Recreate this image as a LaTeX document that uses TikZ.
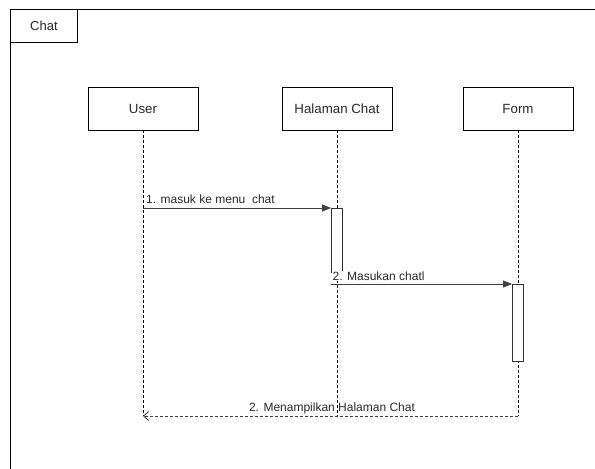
\documentclass[tikz,border=0pt]{standalone}
\usepackage{fontspec}
\setmainfont{Liberation Sans}
\usetikzlibrary{arrows.meta}
\definecolor{txt}{HTML}{2A2A2A}
\begin{document}
\begin{tikzpicture}[x=1pt,y=-1pt,
  every node/.style={font=\fontsize{13.3}{15}\selectfont, text=txt},
  head/.style={draw=black, line width=0.8pt, fill=white, minimum width=110pt, minimum height=43pt, inner sep=0pt},
  life/.style={draw=black, line width=0.6pt, dash pattern=on 3pt off 2pt},
  actbar/.style={draw=black!80, line width=0.8pt, fill=white},
  msg/.style={draw=black!75, line width=0.8pt, -{Triangle[length=9pt,width=7pt]}},
  ret/.style={draw=black!75, line width=0.8pt, dash pattern=on 3pt off 2pt, -{Straight Barb[length=5pt,width=9pt]}},
  lbl/.style={font=\fontsize{12}{14}\selectfont, inner sep=1pt}
]
\useasboundingbox (0,0) rectangle (595,469);
\begin{scope}
\clip (0,0) rectangle (595,469);
\fill[white] (0,0) rectangle (595,469);
% frame
\draw[line width=0.8pt] (10,9) rectangle (610,480);
\node[draw=black, line width=0.8pt, minimum width=67pt, minimum height=33pt, inner sep=0pt, anchor=north west, font=\fontsize{13}{15}\selectfont] (tab) at (10,9) {Chat};
% lifelines
\coordinate (uEnd) at (143,416);
\coordinate (hEnd) at (337,416);
\coordinate (fEnd) at (518,416);
\node[head] (user) at (143,108.5) {User};
\node[head] (hal) at (337,108.5) {Halaman Chat};
\node[head] (form) at (518,108.5) {Form};
\draw[life] (user.south) -- (uEnd);
\draw[life] (hal.south) -- (hEnd);
\draw[life] (form.south) -- (fEnd);
% activations
\node[actbar, minimum width=11pt, minimum height=64pt, inner sep=0pt, anchor=north] (a1) at (337,208) {};
\node[actbar, minimum width=11pt, minimum height=77pt, inner sep=0pt, anchor=north] (a2) at (518,284) {};
% messages
\coordinate (m1s) at (143,208);
\draw[msg] (m1s) -- (a1.north west);
\node[lbl, anchor=base west] (l1) at (145,203) {1. masuk ke menu\ \ chat};
\coordinate (m2s) at (331,284);
\draw[msg] (m2s) -- (a2.north west);
\node[lbl, anchor=base west, fill=white, inner sep=0.5pt] (l2) at (332,280) {2. Masukan chatl};
\draw[ret] (fEnd) -- (uEnd);
\node[lbl, anchor=base] (l3) at (332,411) {2. Menampilkan Halaman Chat};
\end{scope}
\end{tikzpicture}
\end{document}
